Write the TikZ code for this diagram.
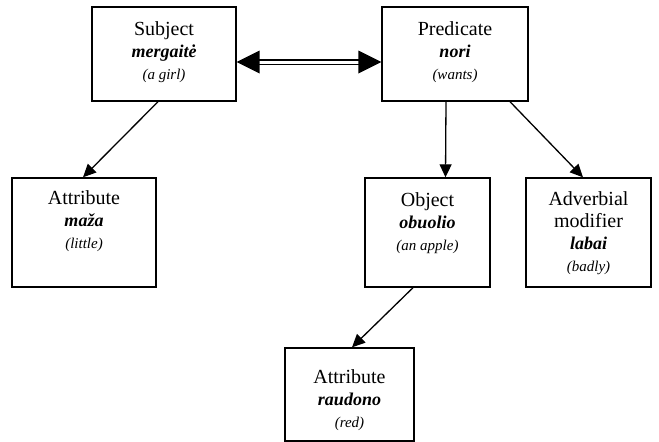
\documentclass[tikz,border=0pt]{standalone}
\usepackage{fontspec}
\setmainfont{Liberation Serif}
\usetikzlibrary{calc,arrows.meta}
\newcommand{\wbi}[1]{{\fontsize{18}{22}\selectfont\bfseries\itshape #1}}
\newcommand{\wit}[1]{{\fontsize{15}{20}\selectfont\itshape #1}}
\begin{document}
\begin{tikzpicture}[x=1pt,y=-1pt,
  box/.style={draw, line width=1.4pt, rectangle, inner sep=0pt},
  txt/.style={anchor=north, align=center, inner sep=0pt},
  arr/.style={line width=1.3pt, -{Triangle[length=13pt,width=12pt]}},
  dbl/.style={line width=1.3pt, double, double distance=3pt},
  rg/.style={font=\fontsize{20}{22}\selectfont},
]
\useasboundingbox (0,0) rectangle (659,442);
\fill[white] (0,0) rectangle (659,442);

\node[box, minimum width=144pt, minimum height=94pt] (subj) at (164,54) {};
\node[box, minimum width=146pt, minimum height=94pt] (pred) at (455,54) {};
\node[box, minimum width=144pt, minimum height=109pt] (attra) at (84,232.5) {};
\node[box, minimum width=125pt, minimum height=109pt] (obj) at (427.5,232.5) {};
\node[box, minimum width=125pt, minimum height=109pt] (adv) at (588.5,232.5) {};
\node[box, minimum width=129pt, minimum height=93pt] (attrb) at (349.5,394.5) {};

\node[txt, rg] (tsubj) at ($(subj.north)+(0,15)$) {Subject\\\wbi{mergaitė}\\\wit{(a girl)}};
\node[txt, rg] (tpred) at ($(pred.north)+(0,15)$) {Predicate\\\wbi{nori}\\\wit{(wants)}};
\node[txt, rg] (tattra) at ($(attra.north)+(0,13)$) {Attribute\\\wbi{maža}\\\wit{(little)}};
\node[txt, rg] (tobj) at ($(obj.north)+(0,15)$) {Object\\\wbi{obuolio}\\\wit{(an apple)}};
\node[txt, rg] (tadv) at ($(adv.north)+(0,14)$) {Adverbial\\modifier\\\wbi{labai}\\\wit{(badly)}};
\node[txt, rg] (tattrb) at ($(attrb.north)+(0,22)$) {Attribute\\\wbi{raudono}\\\wit{(red)}};

\draw[arr] ($(subj.south)+(-6,0)$) -- ($(attra.north)+(-1,0)$);
\draw[arr] ($(pred.south)+(-9,0)$) -- ($(obj.north)+(18,0)$);
\draw[arr] ($(pred.south)+(55,0)$) -- ($(adv.north)+(-5.5,0)$);
\draw[arr] ($(obj.south)+(-14.5,0)$) -- ($(attrb.north)+(2.5,0)$);

\coordinate (dl) at ($(subj.east)+(0,8)$);
\coordinate (dr) at ($(pred.west)+(0,8)$);
\draw[dbl, shorten <=20pt, shorten >=20pt] (dl) -- (dr);
\fill (dl) -- ++(23,-11.5) -- ++(0,23) -- cycle;
\fill (dr) -- ++(-23,-11.5) -- ++(0,23) -- cycle;
\end{tikzpicture}
\end{document}
